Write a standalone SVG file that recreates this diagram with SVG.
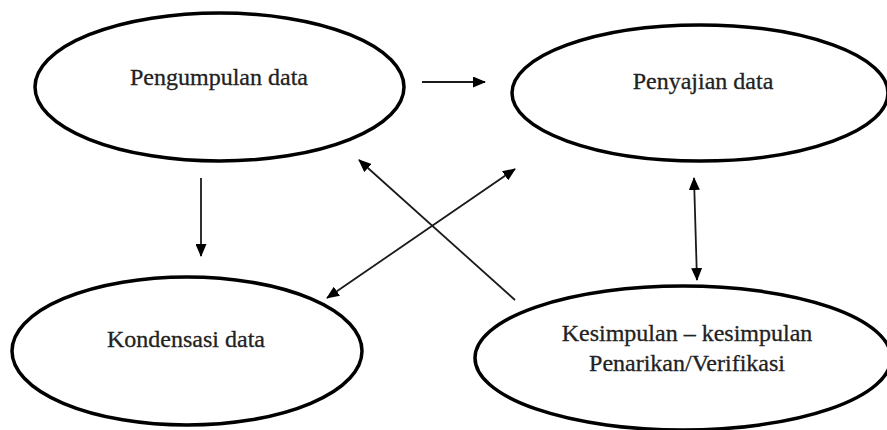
<svg xmlns="http://www.w3.org/2000/svg" width="887" height="430" viewBox="0 0 887 430">
<defs>
<style>
.node ellipse{fill:#fff;stroke:#000;stroke-width:3.5}
.node text{font-family:"Liberation Serif","Times New Roman",serif;font-size:24px;fill:#222;stroke:#222;stroke-width:0.3;text-anchor:middle}
.conn line{stroke:#1a1a1a;stroke-width:1.8;fill:none}
</style>
<marker id="ah" viewBox="0 0 13 11" refX="12" refY="5.5" markerWidth="13" markerHeight="11" markerUnits="userSpaceOnUse" orient="auto-start-reverse">
<path d="M0,0 L13,5.5 L0,11 Z" fill="#000"/>
</marker>
</defs>
<rect width="887" height="430" fill="#fff"/>
<g id="pengumpulan" class="node">
<ellipse cx="219.5" cy="87" rx="184.5" ry="74"/>
<text x="219" y="85">Pengumpulan data</text>
</g>
<g id="penyajian" class="node">
<ellipse cx="700" cy="93" rx="188" ry="68"/>
<text x="703" y="89">Penyajian data</text>
</g>
<g id="kondensasi" class="node">
<ellipse cx="187" cy="351" rx="175" ry="74"/>
<text x="186" y="347">Kondensasi data</text>
</g>
<g id="kesimpulan" class="node">
<ellipse cx="683" cy="358" rx="208" ry="72"/>
<text x="687" y="341">Kesimpulan – kesimpulan</text>
<text x="687" y="371">Penarikan/Verifikasi</text>
</g>
<g id="connectors" class="conn">
<line x1="422" y1="82" x2="485" y2="82" marker-end="url(#ah)"/>
<line x1="201" y1="178" x2="201" y2="256" marker-end="url(#ah)"/>
<line x1="515" y1="300" x2="359" y2="160" marker-end="url(#ah)"/>
<line x1="327" y1="298" x2="515" y2="169" marker-start="url(#ah)" marker-end="url(#ah)"/>
<line x1="694" y1="178" x2="697" y2="280" marker-start="url(#ah)" marker-end="url(#ah)"/>
</g>
</svg>
